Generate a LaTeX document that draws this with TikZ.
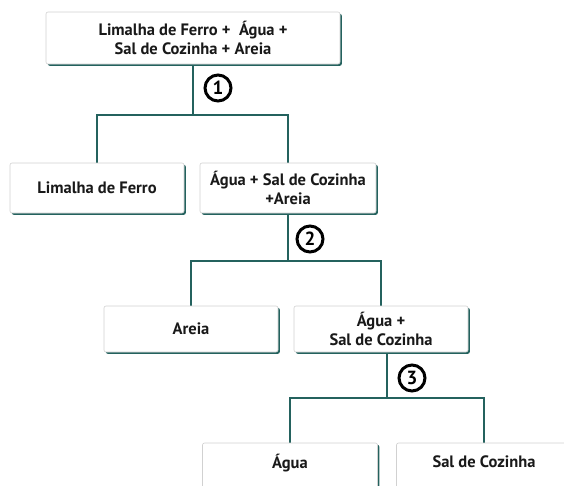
\documentclass[tikz,border=0pt]{standalone}
\usepackage{fontspec}
\setmainfont{PT Sans}
\usetikzlibrary{backgrounds}
\begin{document}
\begin{tikzpicture}[x=1pt,y=-1pt,
  box/.style={draw=black!18, line width=0.6pt, fill=white, rounded corners=2pt,
    inner sep=2pt, align=center, font=\fontsize{16.5}{19}\selectfont\bfseries,
    text=black!90,
    preaction={fill=teal0, transform canvas={shift={(1.8pt,-1.8pt)}}}},
  conn/.style={draw=teal0, line width=1.8pt},
  num/.style={circle, draw=black, line width=3pt, minimum size=26pt, inner sep=0pt,
    font=\fontsize{19}{19}\selectfont\bfseries}]
\definecolor{teal0}{RGB}{36,98,94}
\useasboundingbox (0,0) rectangle (564,485);
\begin{scope}
\clip (0,0) rectangle (564,485);
\node[box, minimum width=294pt, minimum height=52pt] (top) at (193,38) {Limalha de Ferro +\ \ Água +\\Sal de Cozinha + Areia};
\node[box, minimum width=174pt, minimum height=50pt] (lim) at (97,188) {Limalha de Ferro};
\node[box, minimum width=176pt, minimum height=50pt] (asa) at (288,188) {Água + Sal de Cozinha\\+Areia};
\node[box, minimum width=174pt, minimum height=46pt] (are) at (191,329) {Areia};
\node[box, minimum width=174pt, minimum height=46pt] (asc) at (381,329) {Água +\\Sal de Cozinha};
\node[box, minimum width=175pt, minimum height=50pt, text depth=13pt] (agu) at (290,468) {Água};
\node[box, minimum width=175pt, minimum height=50pt, text depth=13pt] (sal) at (484,468) {Sal de Cozinha};
\coordinate (j1) at (top.south |- 0,115);
\coordinate (j2) at (asa.south |- 0,261);
\coordinate (d3) at ([xshift=6pt]asc.south);
\coordinate (j3) at (d3 |- 0,398);
\begin{scope}[on background layer]
\draw[conn] (top.south) -- (j1);
\draw[conn] (lim.north) |- (j1) -| (asa.north);
\draw[conn] (asa.south) -- (j2);
\draw[conn] (are.north) |- (j2) -| (asc.north);
\draw[conn] (d3) -- (j3);
\draw[conn] (agu.north) |- (j3) -| (sal.north);
\end{scope}
\node[num] (n1) at (218,88) {1};
\node[num] (n2) at (310,239) {2};
\node[num] (n3) at (412,378) {3};
\end{scope}
\end{tikzpicture}
\end{document}
